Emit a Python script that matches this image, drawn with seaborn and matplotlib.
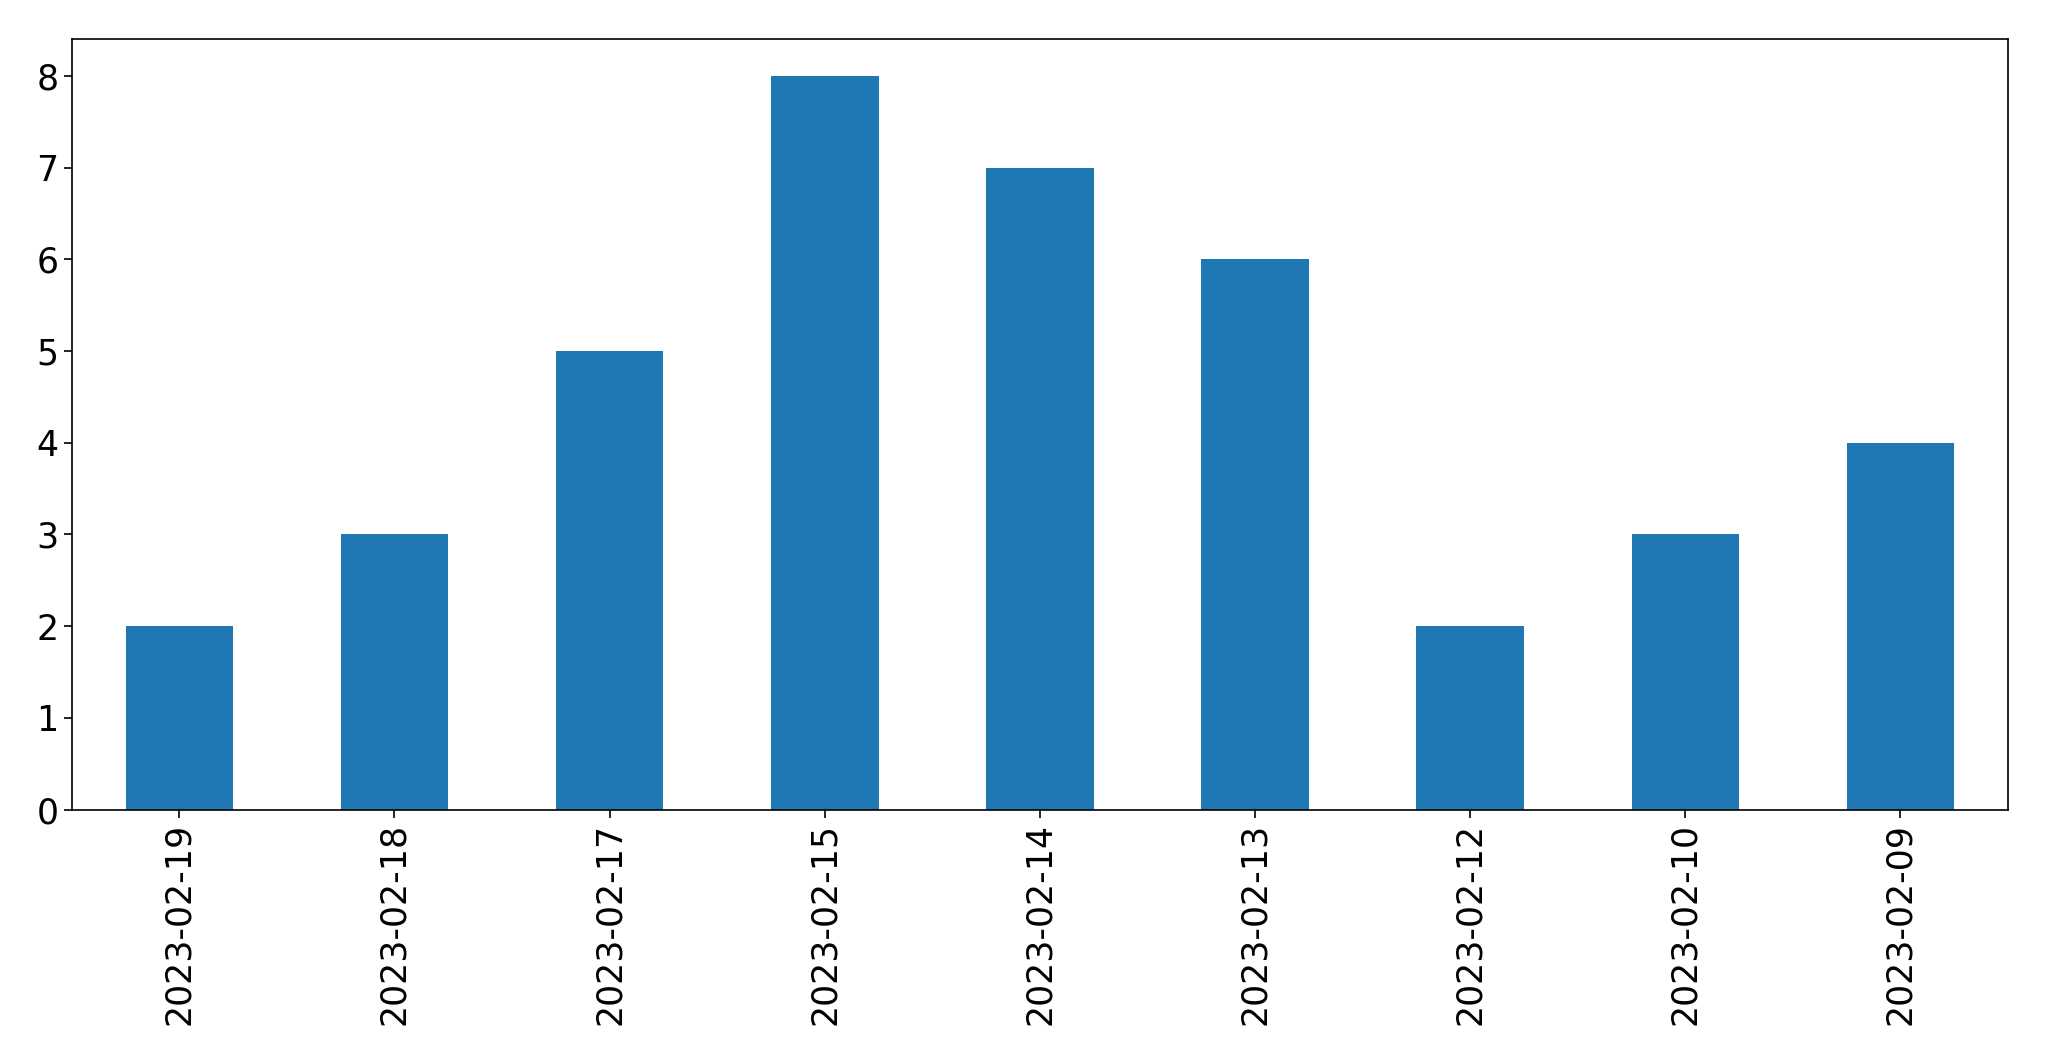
import matplotlib
matplotlib.use("Agg")
import matplotlib.pyplot as plt
import seaborn as sns
import pandas as pd

dates = ["2023-02-19", "2023-02-18", "2023-02-17", "2023-02-15", "2023-02-14",
         "2023-02-13", "2023-02-12", "2023-02-10", "2023-02-09"]
counts = [2, 3, 5, 8, 7, 6, 2, 3, 4]

df = pd.DataFrame({"date": dates, "count": counts})

sns.set_style("ticks")
plt.rcParams['font.family'] = ['DejaVu Sans']
plt.rcParams['text.color'] = 'black'
plt.rcParams['xtick.color'] = 'black'
plt.rcParams['ytick.color'] = 'black'

fig = plt.figure(figsize=(20.49, 10.61), dpi=100)
ax = fig.add_axes([0.035, 0.237, 0.945, 0.726])
sns.barplot(data=df, x="date", y="count", order=dates, color="#1f77b4",
            saturation=1, width=0.5, linewidth=0, ax=ax)
ax.set_xlim(-0.5, len(dates) - 0.5)
ax.set_ylim(0, 8.4)
ax.set_xlabel("")
ax.set_ylabel("")
ax.tick_params(axis="both", labelsize=25, length=6, width=1.2,
               color="black", labelcolor="black")
ax.tick_params(axis="x", rotation=90)
for s in ax.spines.values():
    s.set_visible(True)
    s.set_linewidth(1.2)
    s.set_color("black")
fig.savefig("out.png", dpi=100)
